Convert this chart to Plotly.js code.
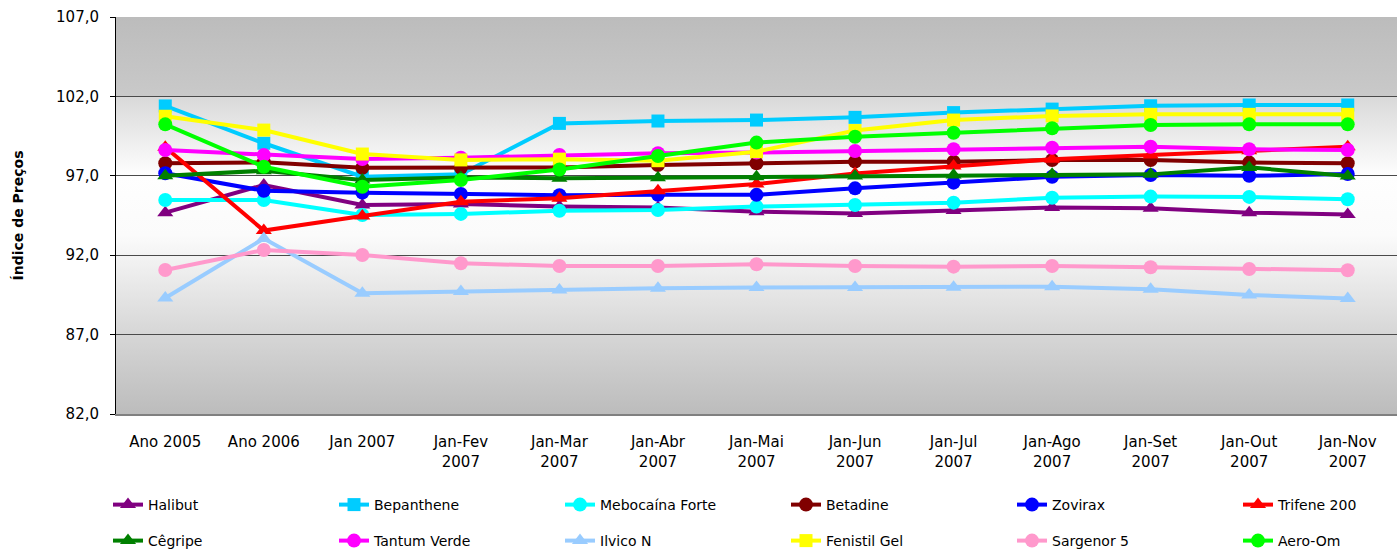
<!DOCTYPE html>
<html>
<head>
<meta charset="utf-8">
<script src="https://cdn.plot.ly/plotly-3.0.1.min.js"></script>
<style>html,body{margin:0;padding:0;background:#fff;}#chart{width:1398px;height:549px;}</style>
</head>
<body>
<div id="chart"></div>
<script>
// ---- data ----
const categories = ['Ano 2005','Ano 2006','Jan 2007','Jan-Fev 2007','Jan-Mar 2007','Jan-Abr 2007','Jan-Mai 2007','Jan-Jun 2007','Jan-Jul 2007','Jan-Ago 2007','Jan-Set 2007','Jan-Out 2007','Jan-Nov 2007'];
const tickLabels = ['Ano 2005','Ano 2006','Jan 2007','Jan-Fev<br>2007','Jan-Mar<br>2007','Jan-Abr<br>2007','Jan-Mai<br>2007','Jan-Jun<br>2007','Jan-Jul<br>2007','Jan-Ago<br>2007','Jan-Set<br>2007','Jan-Out<br>2007','Jan-Nov<br>2007'];

const halibut    = [94.68, 96.42, 95.16, 95.22, 95.06, 95.00, 94.74, 94.63, 94.82, 95.00, 94.95, 94.68, 94.57];
const bepanthene = [101.40, 99.05, 96.94, 97.09, 100.30, 100.45, 100.51, 100.68, 100.98, 101.20, 101.41, 101.46, 101.46];
const mebocaina  = [95.48, 95.48, 94.53, 94.60, 94.80, 94.85, 95.06, 95.16, 95.31, 95.62, 95.69, 95.67, 95.52];
const betadine   = [97.79, 97.85, 97.51, 97.50, 97.53, 97.68, 97.79, 97.89, 97.89, 97.99, 97.99, 97.83, 97.79];
const zovirax    = [97.16, 96.06, 95.94, 95.85, 95.78, 95.80, 95.80, 96.21, 96.57, 96.94, 97.05, 97.00, 97.11];
const trifene    = [98.80, 93.55, 94.47, 95.37, 95.58, 96.06, 96.48, 97.15, 97.62, 98.04, 98.31, 98.58, 98.83];
const cegripe    = [97.00, 97.32, 96.74, 96.90, 96.84, 96.88, 96.94, 96.99, 97.05, 97.09, 97.09, 97.53, 96.99];
const tantum     = [98.62, 98.31, 98.06, 98.14, 98.31, 98.42, 98.46, 98.56, 98.67, 98.77, 98.83, 98.67, 98.62];
const ilvico     = [89.30, 93.05, 89.60, 89.72, 89.81, 89.92, 89.96, 89.96, 89.98, 90.02, 89.85, 89.49, 89.28];
const fenistil   = [100.75, 99.88, 98.37, 98.00, 98.05, 97.95, 98.52, 99.85, 100.51, 100.77, 100.87, 100.87, 100.87];
const sargenor   = [91.07, 92.33, 92.01, 91.49, 91.32, 91.32, 91.43, 91.32, 91.28, 91.32, 91.24, 91.13, 91.05];
const aeroOm     = [100.24, 97.57, 96.31, 96.74, 97.40, 98.25, 99.09, 99.46, 99.71, 99.99, 100.20, 100.24, 100.24];

const seriesNames = ['Halibut','Bepanthene','Mebocaína Forte','Betadine','Zovirax','Trifene 200','Cêgripe','Tantum Verde','Ilvico N','Fenistil Gel','Sargenor 5','Aero-Om'];
const seriesValues = [halibut, bepanthene, mebocaina, betadine, zovirax, trifene, cegripe, tantum, ilvico, fenistil, sargenor, aeroOm];

// ---- styles ----
const colors  = ['#800080','#00CCFF','#00FFFF','#800000','#0000FF','#FF0000','#008000','#FF00FF','#99CCFF','#FFFF00','#FF99CC','#00FF00'];
const symbols = ['triangle-up','square','circle','circle','circle','triangle-up','triangle-up','circle','triangle-up','square','circle','circle'];
// legend groups: row 1 (first five, last one), row 2 (first five, last one)
const legendOf = ['legend','legend','legend','legend','legend','legend2','legend3','legend3','legend3','legend3','legend3','legend4'];

const FONT = 'DejaVu Sans, Verdana, sans-serif';

const traces = seriesNames.map((name, i) => ({
  type: 'scatter',
  mode: 'lines+markers',
  name: name,
  x: categories,
  y: seriesValues[i],
  line: {color: colors[i], width: 4},
  marker: {color: colors[i], symbol: symbols[i], size: symbols[i] === 'square' ? 13 : 14},
  legend: legendOf[i]
}));

const bgSvg = '<svg xmlns="http://www.w3.org/2000/svg" width="100" height="400" viewBox="0 0 100 400" preserveAspectRatio="none">' +
  '<defs><linearGradient id="g" x1="0" y1="0" x2="0" y2="1">' +
  '<stop offset="0" stop-color="#bcbcbc"/>' +
  '<stop offset="0.199" stop-color="#c9c9c9"/>' +
  '<stop offset="0.201" stop-color="#d9d9d9"/>' +
  '<stop offset="0.40" stop-color="#fefefe"/>' +
  '<stop offset="0.55" stop-color="#fbfbfb"/>' +
  '<stop offset="0.80" stop-color="#d6d6d6"/>' +
  '<stop offset="1" stop-color="#bcbcbc"/>' +
  '</linearGradient></defs><rect x="0" y="0" width="100" height="400" fill="url(#g)"/></svg>';

const W = 1398, H = 549;
function mkLegend(px, py, withEntryWidth) {
  const o = {
    orientation: 'h',
    xref: 'container', yref: 'container',
    x: px / W, y: 1 - py / H, xanchor: 'left', yanchor: 'middle',
    font: {family: FONT, size: 14, color: '#000'},
    bgcolor: 'rgba(0,0,0,0)',
    itemclick: false
  };
  if (withEntryWidth) { o.entrywidth = 181; o.entrywidthmode = 'pixels'; }
  return o;
}

const layout = {
  width: W, height: H,
  margin: {l: 116, r: 1, t: 17, b: 135},
  paper_bgcolor: '#ffffff',
  plot_bgcolor: 'rgba(0,0,0,0)',
  separators: ',.',
  font: {family: FONT, size: 15, color: '#000'},
  showlegend: true,
  legend:  mkLegend(108, 505, true),
  legend2: mkLegend(108 + 5 * 226, 505, false),
  legend3: mkLegend(108, 541, true),
  legend4: mkLegend(108 + 5 * 226, 541, false),
  xaxis: {
    type: 'category',
    range: [-0.5, 12.5],
    tickmode: 'array',
    tickvals: categories,
    ticktext: tickLabels,
    showgrid: false,
    showline: true, linecolor: '#808080', linewidth: 2,
    ticks: '',
    ticklabelstandoff: 13,
    tickfont: {family: FONT, size: 15, color: '#000'},
    zeroline: false,
    fixedrange: true
  },
  yaxis: {
    range: [82, 107],
    tick0: 82, dtick: 5,
    tickformat: '.1f',
    showgrid: true, gridcolor: '#4a4a4a', gridwidth: 1,
    showline: true, linecolor: '#000', linewidth: 1,
    ticks: 'outside', ticklen: 5, tickcolor: '#000',
    ticklabelstandoff: 8,
    tickfont: {family: FONT, size: 15, color: '#000'},
    zeroline: false,
    automargin: false,
    title: {text: 'Índice de Preços', font: {family: FONT, size: 14, color: '#000', weight: 'bold'}, standoff: 29},
    fixedrange: true
  },
  images: [{
    source: 'data:image/svg+xml;charset=utf-8,' + encodeURIComponent(bgSvg),
    xref: 'paper', yref: 'paper', x: 0, y: 1, sizex: 1, sizey: 1,
    xanchor: 'left', yanchor: 'top', sizing: 'stretch', layer: 'below'
  }]
};

Plotly.newPlot('chart', traces, layout, {displayModeBar: false, staticPlot: true});
</script>
</body>
</html>
